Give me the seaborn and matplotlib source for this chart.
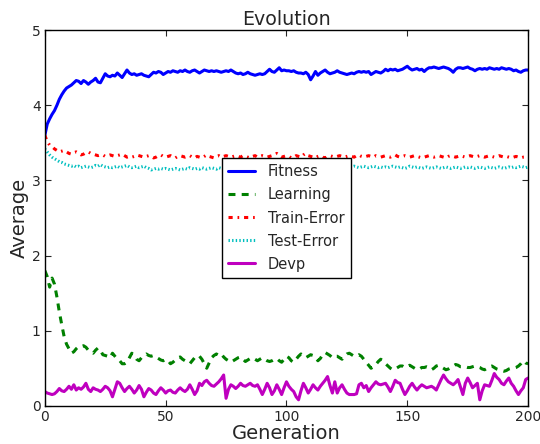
import numpy as np
import pandas as pd
import matplotlib
matplotlib.use("Agg")
import matplotlib.pyplot as plt
import seaborn as sns

title = "Evolution"
x_label = "Generation"
y_label = "Average"
series_names = ["Fitness", "Learning", "Train-Error", "Test-Error", "Devp"]

fitness = [
    3.60, 3.75, 3.82, 3.88, 3.93, 4.00, 4.08, 4.14, 4.19, 4.23,
    4.25, 4.27, 4.30, 4.33, 4.32, 4.29, 4.33, 4.31, 4.28, 4.31,
    4.33, 4.36, 4.31, 4.30, 4.36, 4.42, 4.39, 4.38, 4.40, 4.39,
    4.43, 4.40, 4.37, 4.42, 4.47, 4.43, 4.41, 4.42, 4.40, 4.41,
    4.42, 4.40, 4.39, 4.38, 4.41, 4.44, 4.43, 4.45, 4.44, 4.41,
    4.43, 4.45, 4.44, 4.46, 4.45, 4.44, 4.46, 4.45, 4.47, 4.45,
    4.44, 4.46, 4.47, 4.45, 4.43, 4.45, 4.47, 4.46, 4.45, 4.46,
    4.45, 4.46, 4.45, 4.44, 4.45, 4.46, 4.45, 4.47, 4.45, 4.43,
    4.42, 4.43, 4.41, 4.42, 4.44, 4.42, 4.41, 4.40, 4.41, 4.42,
    4.41, 4.42, 4.45, 4.48, 4.45, 4.44, 4.47, 4.50, 4.46, 4.47,
    4.46, 4.46, 4.45, 4.46, 4.44, 4.43, 4.43, 4.42, 4.44, 4.41,
    4.34, 4.39, 4.45, 4.40, 4.43, 4.45, 4.47, 4.44, 4.42, 4.43,
    4.44, 4.46, 4.44, 4.43, 4.42, 4.41, 4.42, 4.43, 4.42, 4.44,
    4.45, 4.44, 4.45, 4.44, 4.45, 4.41, 4.43, 4.45, 4.44, 4.43,
    4.45, 4.48, 4.46, 4.48, 4.47, 4.48, 4.46, 4.47, 4.48, 4.50,
    4.52, 4.49, 4.47, 4.48, 4.49, 4.47, 4.48, 4.45, 4.48, 4.50,
    4.50, 4.51, 4.50, 4.49, 4.50, 4.51, 4.50, 4.49, 4.47, 4.44,
    4.48, 4.50, 4.50, 4.49, 4.50, 4.51, 4.49, 4.48, 4.46, 4.48,
    4.49, 4.48, 4.49, 4.48, 4.50, 4.49, 4.48, 4.49, 4.48, 4.50,
    4.49, 4.48, 4.49, 4.48, 4.46, 4.47, 4.45, 4.44, 4.46, 4.47,
    4.47,
]

learning = [
    1.80, 1.72, 1.58, 1.70, 1.62, 1.45, 1.25, 1.08, 0.92, 0.82,
    0.76, 0.70, 0.72, 0.76, 0.79, 0.79, 0.80, 0.78, 0.74, 0.72,
    0.70, 0.74, 0.77, 0.74, 0.68, 0.67, 0.66, 0.64, 0.70, 0.66,
    0.62, 0.60, 0.56, 0.56, 0.58, 0.64, 0.70, 0.67, 0.62, 0.60,
    0.64, 0.67, 0.69, 0.67, 0.66, 0.67, 0.65, 0.63, 0.61, 0.60,
    0.62, 0.60, 0.56, 0.58, 0.61, 0.64, 0.65, 0.62, 0.60, 0.58,
    0.56, 0.60, 0.64, 0.67, 0.66, 0.62, 0.56, 0.50, 0.57, 0.64,
    0.67, 0.69, 0.67, 0.69, 0.65, 0.62, 0.60, 0.58, 0.60, 0.62,
    0.64, 0.65, 0.62, 0.59, 0.61, 0.63, 0.64, 0.62, 0.60, 0.62,
    0.64, 0.62, 0.60, 0.59, 0.60, 0.62, 0.63, 0.60, 0.58, 0.62,
    0.66, 0.64, 0.60, 0.58, 0.62, 0.66, 0.69, 0.67, 0.64, 0.66,
    0.68, 0.67, 0.65, 0.60, 0.63, 0.68, 0.71, 0.69, 0.67, 0.64,
    0.66, 0.66, 0.64, 0.62, 0.66, 0.69, 0.70, 0.68, 0.66, 0.66,
    0.68, 0.66, 0.62, 0.58, 0.54, 0.50, 0.52, 0.55, 0.59, 0.62,
    0.60, 0.56, 0.53, 0.50, 0.48, 0.49, 0.51, 0.53, 0.53, 0.51,
    0.52, 0.54, 0.52, 0.50, 0.48, 0.49, 0.51, 0.51, 0.52, 0.51,
    0.48, 0.50, 0.53, 0.54, 0.52, 0.50, 0.48, 0.49, 0.51, 0.53,
    0.55, 0.54, 0.52, 0.52, 0.52, 0.51, 0.51, 0.52, 0.53, 0.52,
    0.51, 0.49, 0.48, 0.50, 0.52, 0.53, 0.51, 0.49, 0.48, 0.47,
    0.46, 0.47, 0.49, 0.50, 0.50, 0.51, 0.53, 0.56, 0.60, 0.57,
    0.56,
]

train_error = [
    3.60, 3.52, 3.47, 3.45, 3.42, 3.40, 3.38, 3.39, 3.40, 3.38,
    3.36, 3.35, 3.37, 3.38, 3.36, 3.34, 3.35, 3.37, 3.38, 3.36,
    3.35, 3.34, 3.33, 3.34, 3.34, 3.32, 3.33, 3.34, 3.33, 3.32,
    3.33, 3.34, 3.35, 3.33, 3.31, 3.32, 3.31, 3.32, 3.34, 3.33,
    3.32, 3.31, 3.32, 3.33, 3.32, 3.30, 3.31, 3.33, 3.34, 3.32,
    3.31, 3.32, 3.33, 3.31, 3.30, 3.32, 3.33, 3.32, 3.31, 3.32,
    3.33, 3.31, 3.30, 3.32, 3.31, 3.30, 3.32, 3.34, 3.32, 3.31,
    3.30, 3.32, 3.33, 3.31, 3.32, 3.33, 3.32, 3.31, 3.32, 3.33,
    3.32, 3.31, 3.33, 3.32, 3.31, 3.30, 3.32, 3.33, 3.31, 3.32,
    3.33, 3.32, 3.31, 3.32, 3.33, 3.34, 3.36, 3.33, 3.31, 3.32,
    3.33, 3.32, 3.30, 3.31, 3.33, 3.32, 3.31, 3.34, 3.36, 3.33,
    3.32, 3.31, 3.30, 3.32, 3.33, 3.31, 3.30, 3.32, 3.33, 3.32,
    3.31, 3.32, 3.33, 3.32, 3.31, 3.32, 3.33, 3.32, 3.31, 3.33,
    3.34, 3.32, 3.31, 3.32, 3.33, 3.32, 3.31, 3.33, 3.32, 3.31,
    3.32, 3.33, 3.32, 3.31, 3.33, 3.34, 3.32, 3.31, 3.32, 3.33,
    3.32, 3.31, 3.32, 3.33, 3.32, 3.31, 3.30, 3.31, 3.32, 3.33,
    3.32, 3.31, 3.32, 3.33, 3.32, 3.31, 3.30, 3.32, 3.33, 3.32,
    3.31, 3.32, 3.33, 3.32, 3.31, 3.32, 3.33, 3.32, 3.31, 3.32,
    3.33, 3.32, 3.31, 3.32, 3.33, 3.32, 3.31, 3.32, 3.33, 3.32,
    3.31, 3.32, 3.31, 3.30, 3.31, 3.32, 3.31, 3.30, 3.31, 3.31,
    3.30,
]

test_error = [
    3.42, 3.38, 3.34, 3.31, 3.29, 3.27, 3.25, 3.24, 3.22, 3.21,
    3.20, 3.19, 3.20, 3.18, 3.19, 3.17, 3.18, 3.19, 3.18, 3.17,
    3.18, 3.20, 3.19, 3.21, 3.19, 3.18, 3.17, 3.18, 3.17, 3.18,
    3.19, 3.17, 3.18, 3.19, 3.20, 3.18, 3.17, 3.18, 3.19, 3.17,
    3.18, 3.19, 3.17, 3.16, 3.14, 3.15, 3.16, 3.15, 3.16, 3.15,
    3.16, 3.15, 3.14, 3.15, 3.16, 3.15, 3.14, 3.15, 3.16, 3.15,
    3.17, 3.16, 3.15, 3.16, 3.15, 3.17, 3.16, 3.15, 3.16, 3.17,
    3.16, 3.15, 3.17, 3.16, 3.15, 3.16, 3.17, 3.16, 3.15, 3.16,
    3.17, 3.16, 3.15, 3.16, 3.17, 3.16, 3.15, 3.16, 3.17, 3.16,
    3.15, 3.16, 3.17, 3.16, 3.15, 3.16, 3.17, 3.16, 3.15, 3.16,
    3.17, 3.16, 3.17, 3.18, 3.17, 3.16, 3.17, 3.18, 3.17, 3.16,
    3.17, 3.18, 3.17, 3.16, 3.17, 3.18, 3.19, 3.18, 3.17, 3.18,
    3.17, 3.18, 3.19, 3.18, 3.17, 3.18, 3.17, 3.18, 3.19, 3.18,
    3.17, 3.18, 3.19, 3.18, 3.17, 3.18, 3.19, 3.18, 3.17, 3.18,
    3.17, 3.18, 3.17, 3.18, 3.19, 3.18, 3.17, 3.18, 3.17, 3.16,
    3.17, 3.19, 3.18, 3.17, 3.18, 3.17, 3.16, 3.17, 3.18, 3.17,
    3.16, 3.17, 3.18, 3.17, 3.16, 3.17, 3.18, 3.17, 3.16, 3.17,
    3.18, 3.17, 3.16, 3.17, 3.18, 3.17, 3.18, 3.17, 3.16, 3.17,
    3.18, 3.17, 3.16, 3.17, 3.18, 3.17, 3.16, 3.17, 3.18, 3.17,
    3.16, 3.17, 3.18, 3.17, 3.18, 3.17, 3.18, 3.19, 3.18, 3.17,
    3.18,
]

devp = [
    0.19, 0.17, 0.16, 0.15, 0.16, 0.19, 0.23, 0.20, 0.19, 0.22,
    0.26, 0.22, 0.28, 0.21, 0.24, 0.22, 0.25, 0.30, 0.22, 0.19,
    0.24, 0.22, 0.21, 0.19, 0.22, 0.26, 0.24, 0.20, 0.12, 0.22,
    0.32, 0.30, 0.24, 0.19, 0.23, 0.26, 0.22, 0.17, 0.21, 0.27,
    0.22, 0.12, 0.18, 0.23, 0.21, 0.17, 0.15, 0.20, 0.24, 0.21,
    0.17, 0.20, 0.21, 0.18, 0.17, 0.21, 0.24, 0.21, 0.19, 0.22,
    0.28, 0.22, 0.15, 0.20, 0.30, 0.27, 0.32, 0.34, 0.30, 0.27,
    0.26, 0.29, 0.32, 0.36, 0.41, 0.10, 0.22, 0.28, 0.26, 0.23,
    0.26, 0.30, 0.27, 0.26, 0.28, 0.30, 0.27, 0.26, 0.28, 0.22,
    0.15, 0.22, 0.30, 0.24, 0.15, 0.20, 0.28, 0.22, 0.15, 0.24,
    0.32, 0.26, 0.22, 0.19, 0.12, 0.08, 0.20, 0.30, 0.24, 0.17,
    0.22, 0.28, 0.24, 0.21, 0.26, 0.30, 0.34, 0.39, 0.27, 0.17,
    0.32, 0.17, 0.24, 0.28, 0.22, 0.17, 0.15, 0.15, 0.15, 0.16,
    0.28, 0.30, 0.24, 0.27, 0.19, 0.24, 0.28, 0.32, 0.29, 0.28,
    0.29, 0.30, 0.25, 0.19, 0.26, 0.34, 0.31, 0.30, 0.22, 0.15,
    0.20, 0.26, 0.30, 0.25, 0.21, 0.25, 0.28, 0.26, 0.24, 0.25,
    0.26, 0.24, 0.21, 0.28, 0.35, 0.41, 0.36, 0.32, 0.30, 0.28,
    0.31, 0.35, 0.25, 0.15, 0.30, 0.37, 0.31, 0.24, 0.27, 0.30,
    0.08, 0.20, 0.28, 0.27, 0.26, 0.34, 0.43, 0.38, 0.35, 0.30,
    0.28, 0.33, 0.37, 0.30, 0.26, 0.20, 0.15, 0.20, 0.24, 0.35,
    0.37,
]

x_ticks = [0, 50, 100, 150, 200]
y_ticks = [0, 1, 2, 3, 4, 5]

sns.set_style("ticks", {
    "xtick.direction": "in", "ytick.direction": "in",
    "axes.edgecolor": "black",
})
plt.rcParams["font.family"] = ["DejaVu Sans"]
plt.rcParams["lines.scale_dashes"] = False

fig = plt.figure(figsize=(5.4, 4.44), dpi=100)
ax = fig.add_axes([0.083, 0.086, 0.895, 0.846])

generations = np.arange(len(fitness))
series = [fitness, learning, train_error, test_error, devp]
colors = ["#0000ff", "#008000", "#ff0000", "#00bfbf", "#bf00bf"]
dash_patterns = [None, (5, 4.5), (3, 3.5, 1.2, 3.5), (1.0, 1.6), None]

for name, vals, col, dp in zip(series_names, series, colors, dash_patterns):
    df = pd.DataFrame({"gen": generations[:len(vals)], "val": vals})
    kw = {}
    if dp is not None:
        kw["dashes"] = dp
    sns.lineplot(data=df, x="gen", y="val", ax=ax, color=col,
                 linewidth=2.2, label=name, **kw)

ax.set_xlim(0, 200)
ax.set_ylim(0, 5)
ax.set_xticks(x_ticks)
ax.set_yticks(y_ticks)
ax.tick_params(direction="in", top=True, right=True, labelsize=10,
               length=4, width=0.8, pad=3)
for s in ax.spines.values():
    s.set_color("black")
    s.set_linewidth(1.0)
ax.set_title(title, fontsize=13.7, pad=4)
ax.set_xlabel(x_label, fontsize=14, labelpad=0)
ax.set_ylabel(y_label, fontsize=14, labelpad=2)

leg = ax.legend(loc="center", fontsize=10.5, frameon=True, fancybox=False,
                edgecolor="black", framealpha=1, handlelength=1.8,
                borderpad=0.45, labelspacing=0.55, handletextpad=0.9)
leg.get_frame().set_linewidth(1.0)

fig.savefig("out.png", dpi=100)
